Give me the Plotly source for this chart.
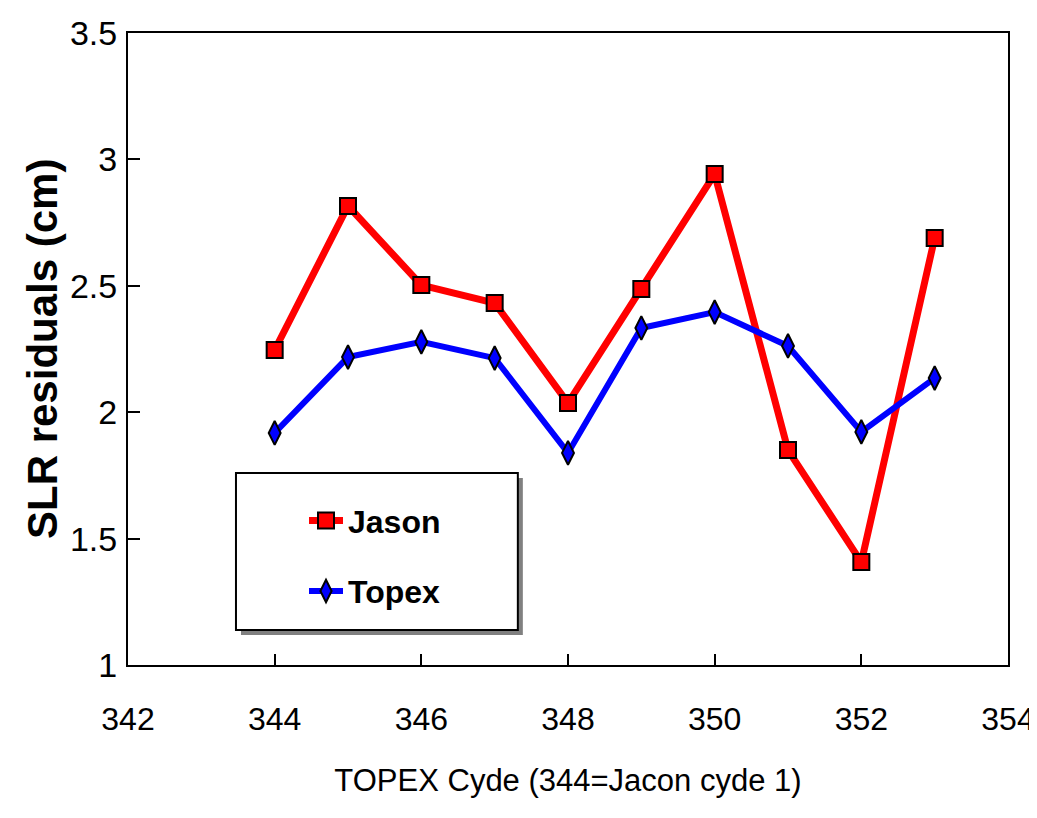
import plotly.graph_objects as go

cycles = [344, 345, 346, 347, 348, 349, 350, 351, 352, 353]
jason = [2.246, 2.816, 2.503, 2.432, 2.036, 2.487, 2.942, 1.850, 1.407, 2.689]
topex = [1.918, 2.218, 2.278, 2.214, 1.839, 2.333, 2.396, 2.262, 1.922, 2.135]

x_ticks = [342, 344, 346, 348, 350, 352, 354]
y_ticks = [1, 1.5, 2, 2.5, 3, 3.5]

FONT = "Liberation Sans, Arial, sans-serif"

fig = go.Figure()
fig.add_trace(go.Scatter(
    x=cycles, y=jason, name="Jason", mode="lines+markers",
    line=dict(color="#ff0000", width=7),
    marker=dict(symbol="square", size=16, color="#ff0000",
                line=dict(color="black", width=2)),
    legendgroup="a",
))
fig.add_trace(go.Scatter(
    x=cycles, y=topex, name="Topex", mode="lines+markers",
    line=dict(color="#0000ff", width=6),
    marker=dict(symbol="diamond-tall", size=17, color="#0000ff",
                line=dict(color="black", width=2)),
    legendgroup="b",
))

# legend box with shadow (paper coords)
bx0, bx1, by0, by1 = 0.1227, 0.443, 0.0554, 0.3038
dx, dy = 5 / 880, 5 / 632
fig.add_shape(type="rect", xref="paper", yref="paper",
              x0=bx0 + dx, x1=bx1 + dx, y0=by0 - dy, y1=by1 - dy,
              fillcolor="#808080", line=dict(width=0), layer="above")
fig.add_shape(type="rect", xref="paper", yref="paper",
              x0=bx0, x1=bx1, y0=by0, y1=by1,
              fillcolor="white", line=dict(color="black", width=2), layer="above")

fig.add_annotation(
    text="<b>SLR residuals (cm)</b>", xref="paper", yref="paper",
    x=-86 / 880, y=0.5, xanchor="center", yanchor="middle",
    textangle=-90, showarrow=False,
    font=dict(size=42, family=FONT, color="black"),
)

fig.update_layout(
    width=1029, height=810,
    margin=dict(l=120, r=29, t=25, b=153, autoexpand=False),
    paper_bgcolor="white", plot_bgcolor="white",
    font=dict(family=FONT, color="black"),
    showlegend=True,
    legend=dict(
        x=0.2, y=0.272, xanchor="left", yanchor="top",
        bgcolor="rgba(0,0,0,0)", borderwidth=0,
        font=dict(family=FONT, size=32, color="black", weight="bold"),
        traceorder="grouped", tracegroupgap=26, itemwidth=34,
    ),
    xaxis=dict(
        range=[342, 354], tickvals=x_ticks, ticktext=[str(v) for v in x_ticks],
        showgrid=False, zeroline=False, automargin=False,
        showline=True, linecolor="black", linewidth=2, mirror=True,
        ticks="inside", ticklen=11, tickwidth=1.5, tickcolor="black",
        tickfont=dict(size=32, family=FONT), ticklabelstandoff=25,
        title=dict(text="TOPEX Cyde (344=Jacon cyde 1)",
                   font=dict(size=31, family=FONT), standoff=33),
    ),
    yaxis=dict(
        range=[1, 3.5], tickvals=y_ticks, ticktext=["1", "1.5", "2", "2.5", "3", "3.5"],
        showgrid=False, zeroline=False, automargin=False,
        showline=True, linecolor="black", linewidth=2, mirror=True,
        ticks="inside", ticklen=12, tickwidth=1.5, tickcolor="black",
        tickfont=dict(size=34, family=FONT), ticklabelstandoff=2,
    ),
)

fig.write_html("out.html")
